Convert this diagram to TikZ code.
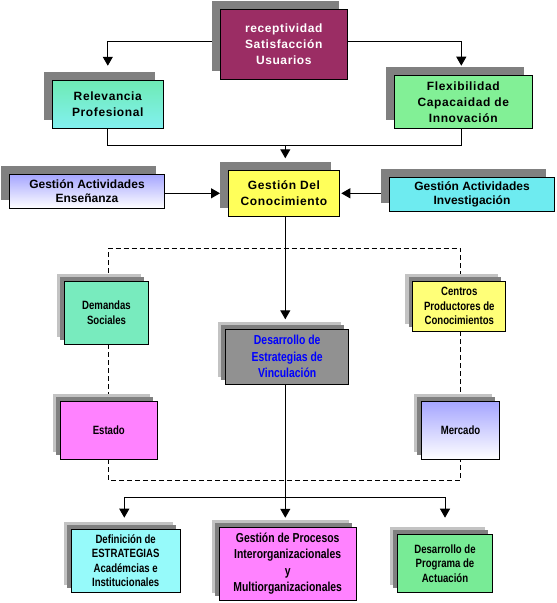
\documentclass[tikz,border=0pt]{standalone}
\usepackage{fontspec}
\setmainfont{Liberation Sans}
\newfontfamily\topf{Liberation Sans}[LetterSpace=5.0]
\newfontfamily\nar{Liberation Sans}[FakeStretch=0.8]
\usetikzlibrary{arrows.meta,shadows}
\pgfdeclarelayer{bg}
\pgfsetlayers{bg,main}
\definecolor{shadowgray}{RGB}{128,128,128}
\definecolor{dotgray}{RGB}{195,195,195}
\definecolor{cPurp}{RGB}{155,45,100}
\definecolor{cRelTop}{RGB}{110,235,180}
\definecolor{cRelBot}{RGB}{130,240,240}
\definecolor{cFlex}{RGB}{130,240,150}
\definecolor{cBlueTop}{RGB}{165,165,255}
\definecolor{cConoc}{RGB}{255,255,90}
\definecolor{cInv}{RGB}{110,235,240}
\definecolor{cDem}{RGB}{120,235,190}
\definecolor{cCen}{RGB}{255,255,120}
\definecolor{cDes}{RGB}{145,145,145}
\definecolor{cMag}{RGB}{255,130,255}
\definecolor{cDef}{RGB}{150,250,250}
\definecolor{cProg}{RGB}{120,235,150}
\definecolor{cBlueTxt}{RGB}{0,0,255}
\tikzset{
  box/.style={draw=black, line width=1pt, inner sep=0pt, outer sep=0pt, align=center},
  shadA/.style={general shadow={fill=shadowgray, shadow xshift=-8.3pt, shadow yshift=8.3pt}},
  shadB/.style={general shadow={fill=dotgray, shadow xshift=-7.5pt, shadow yshift=7.5pt},
                general shadow={fill=shadowgray, shadow xshift=-4.3pt, shadow yshift=4.3pt}},
  bigtxt/.style={font=\topf\bfseries\fontsize{12}{16}\selectfont},
  midtxt/.style={font=\bfseries\fontsize{12}{14.5}\selectfont},
  nartxt/.style={font=\nar\bfseries\fontsize{12}{14.5}\selectfont},
  narbig/.style={font=\nar\bfseries\fontsize{13}{16.5}\selectfont},
  conn/.style={line width=1pt},
  arr/.style={conn, -{Triangle[length=9pt,width=10pt]}},
  dsh/.style={line width=1pt, dash pattern=on 5pt off 3pt},
}
\begin{document}
\begin{tikzpicture}[x=1pt,y=-1pt]
\useasboundingbox (0,0) rectangle (557,603);

% top group
\node[box, shadA, bigtxt, fill=cPurp, text=white, minimum width=127pt, minimum height=70pt] (recept) at (283.8,44.3) {receptividad\\Satisfacción\\Usuarios};
\node[box, shadA, bigtxt, top color=cRelTop, bottom color=cRelBot, minimum width=111pt, minimum height=48.3pt] (relev) at (107.8,104.2) {Relevancia\\Profesional};
\node[box, shadA, bigtxt, fill=cFlex, minimum width=138pt, minimum height=53pt] (flex) at (463.3,101.8) {Flexibilidad\\Capacaidad de\\Innovación};
\node[box, shadA, midtxt, top color=cBlueTop, bottom color=white, minimum width=155.4pt, minimum height=34pt] (ens) at (87,191.3) {Gestión Actividades\\Enseñanza};
\node[box, shadA, bigtxt, fill=cConoc, minimum width=111.4pt, minimum height=46pt] (conoc) at (284,193.3) {Gestión Del\\Conocimiento};
\node[box, shadA, midtxt, fill=cInv, minimum width=165.4pt, minimum height=34pt] (inv) at (472,194.3) {Gestión Actividades\\Investigación};

% middle group
\node[box, shadB, nartxt, fill=cDem, minimum width=84.4pt, minimum height=63.3pt] (dem) at (106.5,312.7) {Demandas\\Sociales};
\node[box, shadB, nartxt, fill=cCen, minimum width=92.7pt, minimum height=50.3pt] (cen) at (459.3,306.2) {Centros\\Productores de\\Conocimientos};
\node[box, shadB, narbig, fill=cDes, text=cBlueTxt, minimum width=123pt, minimum height=55pt] (desest) at (287.2,356.8) {Desarrollo de\\Estrategias de\\Vinculación};
\node[box, shadB, nartxt, fill=cMag, minimum width=97pt, minimum height=58pt] (est) at (108.8,430.3) {Estado};
\node[box, shadB, nartxt, top color=cBlueTop, bottom color=white, minimum width=78.4pt, minimum height=58pt] (mer) at (460.5,430.3) {Mercado};

% bottom group
\node[box, shadB, nartxt, fill=cDef, minimum width=109.3pt, minimum height=63pt] (def) at (125.7,560.8) {Definición de\\ESTRATEGIAS\\Académcias e\\Institucionales};
\node[box, shadB, narbig, fill=cMag, minimum width=137.3pt, minimum height=72.7pt] (proc) at (287.7,563.7) {Gestión de Procesos\\Interorganizacionales\\y\\Multiorganizacionales};
\node[box, shadB, nartxt, fill=cProg, minimum width=95.4pt, minimum height=58pt] (prog) at (445,563.3) {Desarrollo de\\Programa de\\Actuación};

\coordinate (j1) at (285.3,145.3);
\coordinate (j2) at (285.3,497.3);
\coordinate (tl) at (108.3,248.3);
\coordinate (tr) at (460.7,248.3);
\coordinate (bl) at (108.3,480.3);
\coordinate (br) at (460.7,480.3);

\begin{pgfonlayer}{bg}
\draw[arr, shorten >=14.3pt] ([yshift=3pt]recept.west) -| (relev.north);
\draw[arr, shorten >=9.6pt] ([yshift=3pt]recept.east) -| ([xshift=-2pt]flex.north);
\draw[conn] (relev.south) |- (j1) -| ([xshift=-2pt]flex.south);
\draw[arr, shorten >=12pt] (j1) -- (j1 |- conoc.north);
\draw[arr, shorten >=8.3pt] (ens.east |- conoc.west) -- (conoc.west);
\draw[arr, shorten >=1.6pt] (inv.west |- conoc.east) -- (conoc.east);
\draw[arr, shorten >=10pt] (conoc.south -| j1) -- (j1 |- desest.north);
\draw[conn] (desest.south -| j2) -- (j2);
\draw[arr, shorten >=11.6pt] (j2) -| ([xshift=-1.4pt]def.north);
\draw[arr, shorten >=9.6pt] (j2) -- (j2 |- proc.north);
\draw[arr, shorten >=16.6pt] (j2) -| (prog.north);
\draw[dsh] (tl |- dem.north) -- (tl) -- (tr) -- (tr |- cen.north);
\draw[dsh] (tl |- dem.south) -- (tl |- est.north);
\draw[dsh] (tr |- cen.south) -- (tr |- mer.north);
\draw[dsh] (tl |- est.south) -- (bl) -- (br) -- (tr |- mer.south);
\end{pgfonlayer}
\end{tikzpicture}
\end{document}
